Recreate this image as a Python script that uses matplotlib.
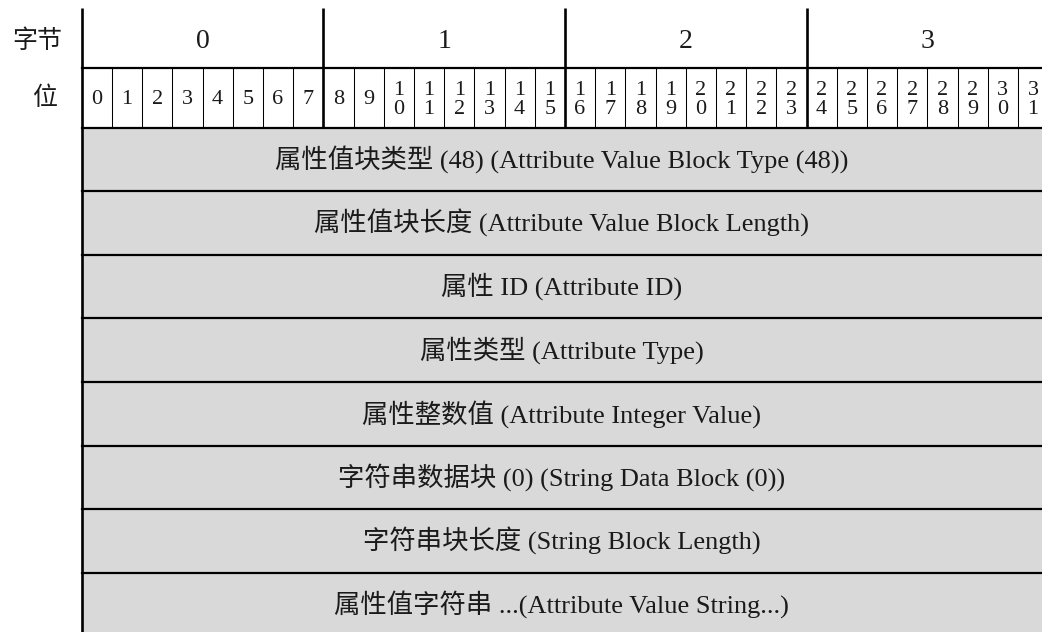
import matplotlib.pyplot as plt
from matplotlib.patches import Rectangle

plt.rcParams['font.family'] = ['Liberation Serif', 'Noto Sans CJK SC']

# data
byte_labels = ['0', '1', '2', '3']
bit_labels = [str(b) for b in range(32)]
field_labels = [
    '属性值块类型 (48) (Attribute Value Block Type (48))',
    '属性值块长度 (Attribute Value Block Length)',
    '属性 ID (Attribute ID)',
    '属性类型 (Attribute Type)',
    '属性整数值 (Attribute Integer Value)',
    '字符串数据块 (0) (String Data Block (0))',
    '字符串块长度 (String Block Length)',
    '属性值字符串 ...(Attribute Value String...)',
]
field_bits = [32] * len(field_labels)

# layout (pixels)
W, H = 1042, 632
x0, bw = 81.7, 30.2
y_top, y_byte, y_bits = 8, 68, 127.5
row_h = 63.6
thick, thin = 1.6, 0.75
fill = '#d9d9d9'
txt = '#1a1a1a'

fig = plt.figure(figsize=(W / 100, H / 100), dpi=100)
ax = fig.add_axes([0, 0, 1, 1])
ax.set_xlim(-x0 / bw, (W - x0) / bw)
ax.set_ylim(H, 0)
ax.axis('off')

# header rows
ax.plot([0, 0], [y_top, H], color='k', lw=thick + 0.3, solid_capstyle='butt')
for b in range(1, len(byte_labels)):
    ax.plot([8 * b, 8 * b], [y_top, y_bits], color='k', lw=thick + 0.3, solid_capstyle='butt')
for i in range(1, 32):
    if i % 8:
        ax.plot([i, i], [y_byte, y_bits], color='k', lw=thin, solid_capstyle='butt')
ax.plot([0, 32], [y_byte, y_byte], color='k', lw=thick)
ax.plot([0, 32], [y_bits, y_bits], color='k', lw=thick)

ax.text(-x0 / bw + 37 / bw, (y_top + y_byte) / 2 + 3, '字节', ha='center', va='center',
        fontsize=18, color=txt, family=['Noto Sans CJK SC'])
ax.text(-x0 / bw + 45 / bw, (y_byte + y_bits) / 2, '位', ha='center', va='center',
        fontsize=18, color=txt, family=['Noto Sans CJK SC'])

for b, lab in enumerate(byte_labels):
    ax.text(8 * b + 4, (y_top + y_byte) / 2 + 3, lab, ha='center', va='center',
            fontsize=20, color=txt)

for i, lab in enumerate(bit_labels):
    if len(lab) == 1:
        ax.text(i + 0.5, (y_byte + y_bits) / 2 + 2, lab, ha='center', va='center',
                fontsize=16, color=txt)
    else:
        ax.text(i + 0.5, (y_byte + y_bits) / 2 + 2.5, lab[0] + '\n' + lab[1], ha='center',
                va='center', fontsize=16, color=txt, linespacing=0.98)

# field rows
xc = ((W - x0) / bw) / 2
y = y_bits
for lab, nb in zip(field_labels, field_bits):
    ax.add_patch(Rectangle((0, y), nb, row_h, facecolor=fill, edgecolor='none', zorder=0))
    ax.text(xc, y + row_h / 2, lab, ha='center', va='center', fontsize=19, color=txt)
    y += row_h
    ax.plot([0, 32], [y, y], color='k', lw=thick)

fig.savefig('out.png', dpi=100)
